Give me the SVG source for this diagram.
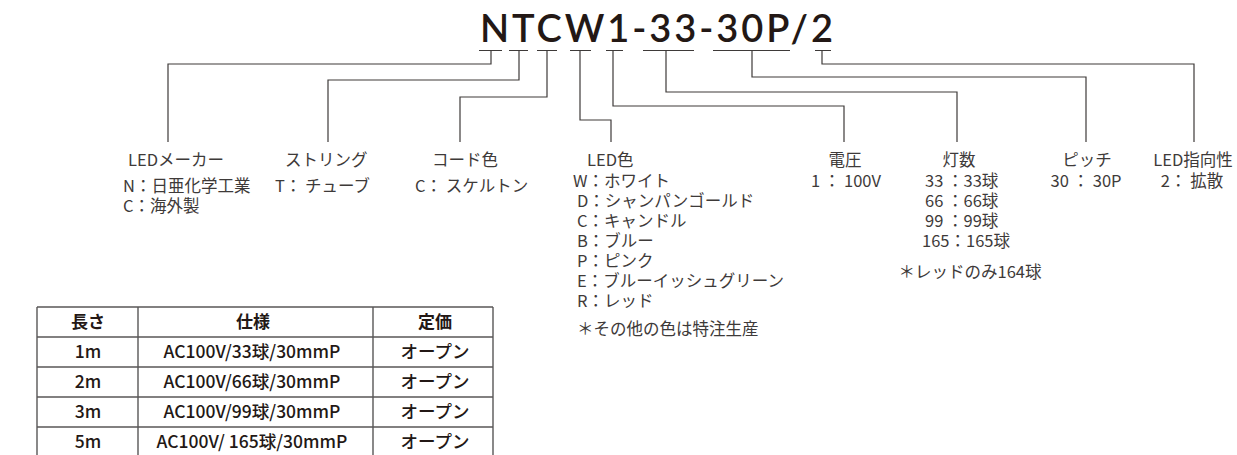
<svg xmlns="http://www.w3.org/2000/svg" width="1237" height="455" viewBox="0 0 1237 455">
<style>
.t{font-family:"Noto Sans CJK JP","Noto Sans",sans-serif;font-size:16.5px;fill:#3e3a39}
.m{text-anchor:middle}
.title{font-family:Lato,"Noto Sans",sans-serif;font-size:38px;font-weight:600;fill:#231815}
.c{fill:none;stroke:#3e3a39;stroke-width:1.2}
.tb{stroke:#595757;stroke-width:1.4;fill:none}
.th{font-family:"Noto Sans CJK JP",sans-serif;font-size:17px;font-weight:700;fill:#231815;text-anchor:middle}
.td{font-family:"Noto Sans CJK JP",sans-serif;font-size:17.5px;font-weight:500;fill:#231815;text-anchor:middle}
</style>
<rect width="1237" height="455" fill="#fff"/>
<g id="title">
<text class="title" x="480" y="42" textLength="353" lengthAdjust="spacing">NTCW1-33-30P/2</text>
</g>
<g id="connectors" class="c">
<path d="M479 50.5H502M509 50.5H528M537 50.5H557M570 50.5H591M606 50.5H623M643 50.5H694M713 50.5H790M815 50.5H831"/>
<path d="M491 50.5V64H168V142"/>
<path d="M519 50.5V80H328V142"/>
<path d="M547 50.5V97H460V142"/>
<path d="M580 50.5V120H611V142"/>
<path d="M613 50.5V106H844V142"/>
<path d="M666 50.5V92H957V142"/>
<path d="M752 50.5V77H1086V142"/>
<path d="M822 50.5V64H1194V142"/>
</g>
<g id="led-maker">
<text class="t" x="128" y="166">LEDメーカー</text>
<text class="t" x="123" y="192">N：日亜化学工業</text>
<text class="t" x="123" y="212">C：海外製</text>
</g>
<g id="string">
<text class="t" x="285" y="166">ストリング</text>
<text class="t" x="275" y="192">T： チューブ</text>
</g>
<g id="cord-color">
<text class="t" x="432" y="166">コード色</text>
<text class="t" x="415" y="192">C： スケルトン</text>
</g>
<g id="led-color">
<text class="t" x="587" y="166">LED色</text>
<text class="t" x="573" y="187">W：ホワイト</text>
<text class="t" x="577" y="207">D：シャンパンゴールド</text>
<text class="t" x="577" y="227">C：キャンドル</text>
<text class="t" x="577" y="247">B：ブルー</text>
<text class="t" x="577" y="267">P：ピンク</text>
<text class="t" x="577" y="287">E：ブルーイッシュグリーン</text>
<text class="t" x="577" y="307">R：レッド</text>
<text class="t" x="577" y="335">＊その他の色は特注生産</text>
</g>
<g id="voltage">
<text class="t m" x="845" y="166">電圧</text>
<text class="t m" x="846" y="187">1 ： 100V</text>
</g>
<g id="bulbs">
<text class="t m" x="959" y="166">灯数</text>
<text class="t" x="925" y="187">33 ：33球</text>
<text class="t" x="925" y="207">66 ：66球</text>
<text class="t" x="925" y="227">99 ：99球</text>
<text class="t" x="922" y="247">165：165球</text>
<text class="t m" x="970" y="278">＊レッドのみ164球</text>
</g>
<g id="pitch">
<text class="t m" x="1087" y="166">ピッチ</text>
<text class="t m" x="1086" y="187">30 ： 30P</text>
</g>
<g id="led-direction">
<text class="t m" x="1193" y="166">LED指向性</text>
<text class="t m" x="1192" y="187">2： 拡散</text>
</g>
<g id="table">
<path class="tb" d="M37 307H493M37 337H493M37 367H493M37 397H493M37 427H493M37 307V455M138 307V455M373 307V455M493 307V455"/>
<text class="th" x="88" y="328">長さ</text>
<text class="th" x="253" y="328">仕様</text>
<text class="th" x="435" y="328">定価</text>
<text class="td" x="88" y="358">1m</text>
<text class="td" x="252" y="358">AC100V/33球/30mmP</text>
<text class="td" x="435" y="358">オープン</text>
<text class="td" x="88" y="388">2m</text>
<text class="td" x="252" y="388">AC100V/66球/30mmP</text>
<text class="td" x="435" y="388">オープン</text>
<text class="td" x="88" y="418">3m</text>
<text class="td" x="252" y="418">AC100V/99球/30mmP</text>
<text class="td" x="435" y="418">オープン</text>
<text class="td" x="88" y="448">5m</text>
<text class="td" x="252" y="448">AC100V/ 165球/30mmP</text>
<text class="td" x="435" y="448">オープン</text>
</g>
</svg>
